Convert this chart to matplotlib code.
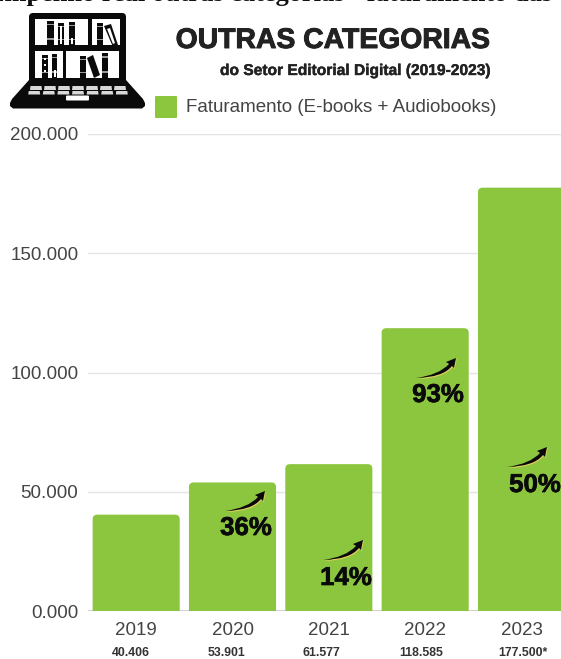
import matplotlib
matplotlib.use("Agg")
import matplotlib.pyplot as plt
import matplotlib.patheffects as pe
from matplotlib.patches import PathPatch, Rectangle, FancyBboxPatch, Polygon
from matplotlib.path import Path

W, H = 561, 659

years = ["2019", "2020", "2021", "2022", "2023"]
revenue = [40406, 53901, 61577, 118585, 177500]
value_labels = ["40.406", "53.901", "61.577", "118.585", "177.500*"]
y_ticks = [0, 50000, 100000, 150000, 200000]
y_tick_labels = ["0.000", "50.000", "100.000", "150.000", "200.000"]
growth_labels = ["36%", "14%", "93%", "50%"]

GREEN = "#8CC63F"
TEXT = "#444444"
INK = "#0A0A0A"

plt.rcParams["font.family"] = ["Liberation Sans", "DejaVu Sans"]
fig = plt.figure(figsize=(W / 100, H / 100), dpi=100)


def px_box(x0, y_top, x1, y_bottom):
    return [x0 / W, 1 - y_bottom / H, (x1 - x0) / W, (y_bottom - y_top) / H]


ax = fig.add_axes(px_box(88, 134, 561, 611))
ax.set_xlim(-0.5, 4.41)
ax.set_ylim(0, 200000)
for side in ax.spines.values():
    side.set_visible(False)
ax.set_axisbelow(True)
ax.grid(axis="y", color="#E4E4E4", lw=1)
ax.set_xticks(range(len(years)), years)
ax.set_yticks(y_ticks, y_tick_labels)
ax.tick_params(length=0, labelsize=13.5, labelcolor=TEXT)
ax.tick_params(axis="x", pad=8)
ax.tick_params(axis="y", pad=7)
ax.axhline(0, color="#C8C8C8", lw=1.2, zorder=1)


def rounded_top(rect, rx=0.05, ry=1900):
    x0, x1 = rect.get_x(), rect.get_x() + rect.get_width()
    top = rect.get_height()
    verts = [(x0, 0), (x0, top - ry), (x0, top), (x0 + rx, top), (x1 - rx, top),
             (x1, top), (x1, top - ry), (x1, 0), (x0, 0)]
    codes = [Path.MOVETO, Path.LINETO, Path.CURVE3, Path.CURVE3, Path.LINETO,
             Path.CURVE3, Path.CURVE3, Path.LINETO, Path.CLOSEPOLY]
    return PathPatch(Path(verts, codes), fc=GREEN, ec="none", zorder=2)


bars = ax.bar(range(len(years)), revenue, width=0.904)
for bar in list(bars):
    patch = rounded_top(bar)
    bar.remove()
    ax.add_patch(patch)

# Full-figure overlay measured in pixels, for the header, the logo and the arrows.
ov = fig.add_axes([0, 0, 1, 1], zorder=5)
ov.set_xlim(0, W)
ov.set_ylim(H, 0)
ov.axis("off")


def growth_arrow(cx, cy):
    """Rising curved arrow with a thin yellow shadow, tip at upper right."""
    def shape(dx, dy, colour, z):
        pts = [(-20, 10), (3, 7), (13, -4), (10, -6), (20, -10), (18, 0), (16, -2), (7, 9.5), (-20, 10)]
        verts = [(cx + x + dx, cy + y + dy) for x, y in pts]
        codes = [Path.MOVETO, Path.CURVE3, Path.CURVE3, Path.LINETO, Path.LINETO, Path.LINETO,
                 Path.LINETO, Path.CURVE3, Path.CURVE3]
        ov.add_patch(PathPatch(Path(verts, codes), fc=colour, ec="none", zorder=z))
    shape(0.7, 1.0, "#E8D060", 6)
    shape(0, 0, INK, 7)


arrow_centres = [(245, 501), (343, 550), (436, 368), (527, 457)]
label_centres = [(246, 528), (346, 578), (438, 395), (535, 485)]
for (cx, cy), (tx, ty), txt in zip(arrow_centres, label_centres, growth_labels):
    growth_arrow(cx, cy)
    ov.text(tx, ty, txt, ha="center", va="center", fontsize=18.6, fontweight="bold",
            color=INK, zorder=8, path_effects=[pe.withStroke(linewidth=0.5, foreground=INK)])

# Revenue figures under the year labels.
value_shift = [-5, -6, -7, -4, 1]
for i, (txt, shift) in enumerate(zip(value_labels, value_shift)):
    px, _ = ax.transData.transform((i, 0))
    ov.text(px + shift, 653, txt, ha="center", va="center", fontsize=8.8,
            fontweight="bold", color="#333333", zorder=8)

# Cropped heading along the top edge.
ov.text(552, 1, "Empenho real outras categorias - faturamento das", ha="right", va="baseline",
        fontsize=19, fontweight="bold", family="Liberation Serif", color="#111111", clip_on=True)

ov.text(333, 41, "OUTRAS CATEGORIAS", ha="center", va="center", fontsize=20.4,
        fontweight="bold", color="#222222",
        path_effects=[pe.withStroke(linewidth=0.7, foreground="#222222")])
ov.text(355, 70.5, "do Setor Editorial Digital (2019-2023)", ha="center", va="center",
        fontsize=11.2, fontweight="bold", color="#222222",
        path_effects=[pe.withStroke(linewidth=0.3, foreground="#222222")])

ov.add_patch(FancyBboxPatch((155, 96), 22, 22, boxstyle="round,pad=0,rounding_size=1",
                            fc=GREEN, ec="none"))
ov.text(186, 107, "Faturamento (E-books + Audiobooks)", ha="left", va="center",
        fontsize=13.5, color=TEXT)

# Laptop-with-bookshelf logo.
ov.add_patch(FancyBboxPatch((29, 13), 97, 75, boxstyle="round,pad=0,rounding_size=4", fc=INK, ec="none"))
base = [(29, 80), (126, 80), (143, 99), (145, 103), (145, 106), (142, 108.5),
        (13, 108.5), (10, 106), (10, 103), (12, 99)]
ov.add_patch(Polygon(base, closed=True, fc=INK, ec="none"))
for x0, y0, x1, y1 in [(35, 19, 88, 45), (92, 19, 120, 45), (35, 51, 63, 78), (66, 51, 119, 78)]:
    ov.add_patch(Rectangle((x0, y0), x1 - x0, y1 - y0, fc="white", ec="none"))


def book(x0, x1, y0, y1):
    ov.add_patch(Rectangle((x0, y0), x1 - x0, y1 - y0, fc=INK, ec="none"))
    for frac in (0.12, 0.72):
        ov.add_patch(Rectangle((x0, y0 + frac * (y1 - y0)), x1 - x0, 1.5, fc="#9A9A9A", ec="none"))


for spec in [(47, 54, 21, 45), (58, 64, 23, 45), (69, 75, 22, 45), (97, 103, 23, 45),
             (42, 48, 55, 78), (52, 57, 54, 78), (80, 86, 56, 78), (102, 108, 53, 78)]:
    book(*spec)
for x0, x1, y0, y1 in [(60, 62, 26, 44), (71, 73, 38, 44), (54, 56, 70, 77)]:
    ov.add_patch(Rectangle((x0, y0), x1 - x0, y1 - y0, fc="white", ec="none"))
for y in (58, 64, 70):
    ov.add_patch(Rectangle((44, y), 2, 2, fc="white", ec="none"))
ov.add_patch(Polygon([(104, 26), (111, 24), (118, 45), (113, 47)], closed=True, fc=INK, ec="none"))
ov.add_patch(Polygon([(107, 29), (110, 28), (115, 43), (113, 44)], closed=True, fc="white", ec="none"))
ov.add_patch(Polygon([(87, 58), (93, 55), (100, 75), (94, 78)], closed=True, fc=INK, ec="none"))

# Keyboard: two rows of seven keys that widen towards the front edge, plus a trackpad.
for row, (y0, y1, spread) in enumerate([(86, 90, 14.0), (91, 94.5, 14.6)]):
    for i in range(7):
        xc = 78 + (i - 3) * spread
        ov.add_patch(Polygon([(xc - 5.5, y0), (xc + 5.5, y0), (xc + 6, y1), (xc - 6, y1)], closed=True,
                             fc="#D8D8D8", ec="none", zorder=3))
ov.add_patch(FancyBboxPatch((66, 95.5), 23, 5, boxstyle="round,pad=0,rounding_size=1",
                            fc="white", ec="none", zorder=3))

fig.savefig("out.png", dpi=100)
